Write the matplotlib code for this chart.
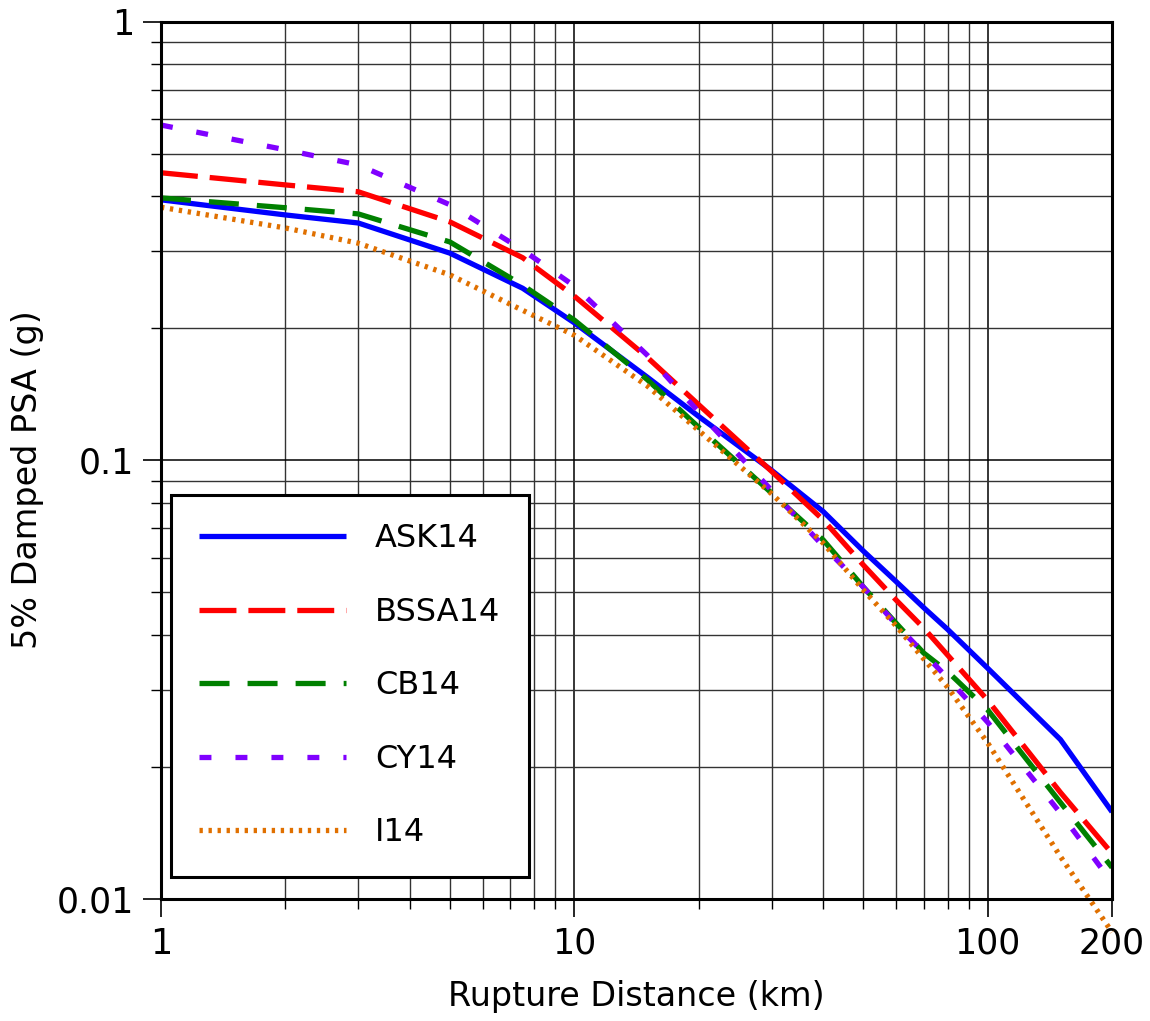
import numpy as np
import matplotlib
matplotlib.use('Agg')
import matplotlib.pyplot as plt
from matplotlib.ticker import FixedLocator, NullFormatter

plt.rcParams['font.family'] = ['DejaVu Sans']
plt.rcParams['lines.scale_dashes'] = False

# rupture distances (km)
dist = [1, 2, 3, 5, 7.5, 10, 15, 20, 30, 40, 50, 60, 70, 80, 100, 150, 200]

# 5% damped PSA (g)
ask14 = [0.393, 0.363, 0.348, 0.297, 0.247, 0.206, 0.155, 0.126, 0.095, 0.0765, 0.0622, 0.053, 0.0462, 0.0412, 0.0336, 0.0231, 0.0158]
bssa14 = [0.453, 0.425, 0.41, 0.35, 0.29, 0.237, 0.172, 0.134, 0.0945, 0.0732, 0.0578, 0.0481, 0.0415, 0.036, 0.0284, 0.0175, 0.0127]
cb14 = [0.397, 0.377, 0.365, 0.315, 0.251, 0.209, 0.153, 0.119, 0.0843, 0.0659, 0.0515, 0.0426, 0.0364, 0.033, 0.027, 0.0166, 0.0118]
cy14 = [0.582, 0.511, 0.472, 0.383, 0.302, 0.25, 0.174, 0.129, 0.0855, 0.0638, 0.0515, 0.0423, 0.0364, 0.0319, 0.0253, 0.0157, 0.0109]
i14 = [0.378, 0.339, 0.313, 0.265, 0.22, 0.193, 0.148, 0.117, 0.084, 0.0648, 0.0507, 0.042, 0.0353, 0.0304, 0.0227, 0.0125, 0.0084]

fig = plt.figure(figsize=(11.5, 10.21), dpi=100)
ax = fig.add_axes([0.14, 0.1195, 0.827, 0.859])

lw = 3.8
ax.plot(dist, ask14, color='#0000ff', lw=lw, label='ASK14', solid_capstyle='butt')
ax.plot(dist, bssa14, color='#ff0000', lw=lw, dashes=(26.6, 8.6), label='BSSA14', dash_capstyle='butt')
ax.plot(dist, cb14, color='#008000', lw=lw, dashes=(21.6, 13), label='CB14', dash_capstyle='butt')
ax.plot(dist, cy14, color='#8000ff', lw=lw, dashes=(8.6, 17.3), label='CY14', dash_capstyle='butt')
# the I14 curve runs past the bottom of the frame in the original
ax.plot(dist, i14, color='#e07000', lw=lw, dashes=(2.4, 4.1), label='I14', dash_capstyle='butt',
        clip_on=False)

ax.set_xscale('log')
ax.set_yscale('log')
ax.set_xlim(1, 200)
ax.set_ylim(0.01, 1)

ax.xaxis.set_major_locator(FixedLocator([1, 10, 100, 200]))
ax.set_xticklabels(['1', '10', '100', '200'])
xminor = [m * d for d in (1, 10) for m in range(2, 10)]
ax.xaxis.set_minor_locator(FixedLocator(xminor))
ax.xaxis.set_minor_formatter(NullFormatter())

ax.yaxis.set_major_locator(FixedLocator([0.01, 0.1, 1]))
ax.set_yticklabels(['0.01', '0.1', '1'])
yminor = [m * d for d in (0.01, 0.1) for m in range(2, 10)]
ax.yaxis.set_minor_locator(FixedLocator(yminor))
ax.yaxis.set_minor_formatter(NullFormatter())

ax.grid(True, which='major', color='black', lw=1.1)
ax.grid(True, which='minor', color='#333333', lw=1.0)
ax.set_axisbelow(True)

ax.tick_params(which='major', direction='out', length=13, width=1.2, labelsize=25)
ax.tick_params(axis='x', which='major', pad=7)
ax.tick_params(axis='y', which='major', pad=6)
ax.tick_params(which='minor', direction='out', length=7, width=1.0)
for s in ax.spines.values():
    s.set_linewidth(2.2)

ax.set_xlabel('Rupture Distance (km)', fontsize=24, labelpad=14)
ax.set_ylabel('5% Damped PSA (g)', fontsize=24)
ax.yaxis.set_label_coords(-0.123, 0.478)

leg = ax.legend(loc='lower left', bbox_to_anchor=(0.01, 0.025), fontsize=23, handlelength=4.6,
                handletextpad=0.9, labelspacing=1.33, borderpad=0.9, borderaxespad=0,
                fancybox=False, framealpha=1, edgecolor='black')
leg.get_frame().set_linewidth(2.2)

fig.savefig('out.png', dpi=100)
